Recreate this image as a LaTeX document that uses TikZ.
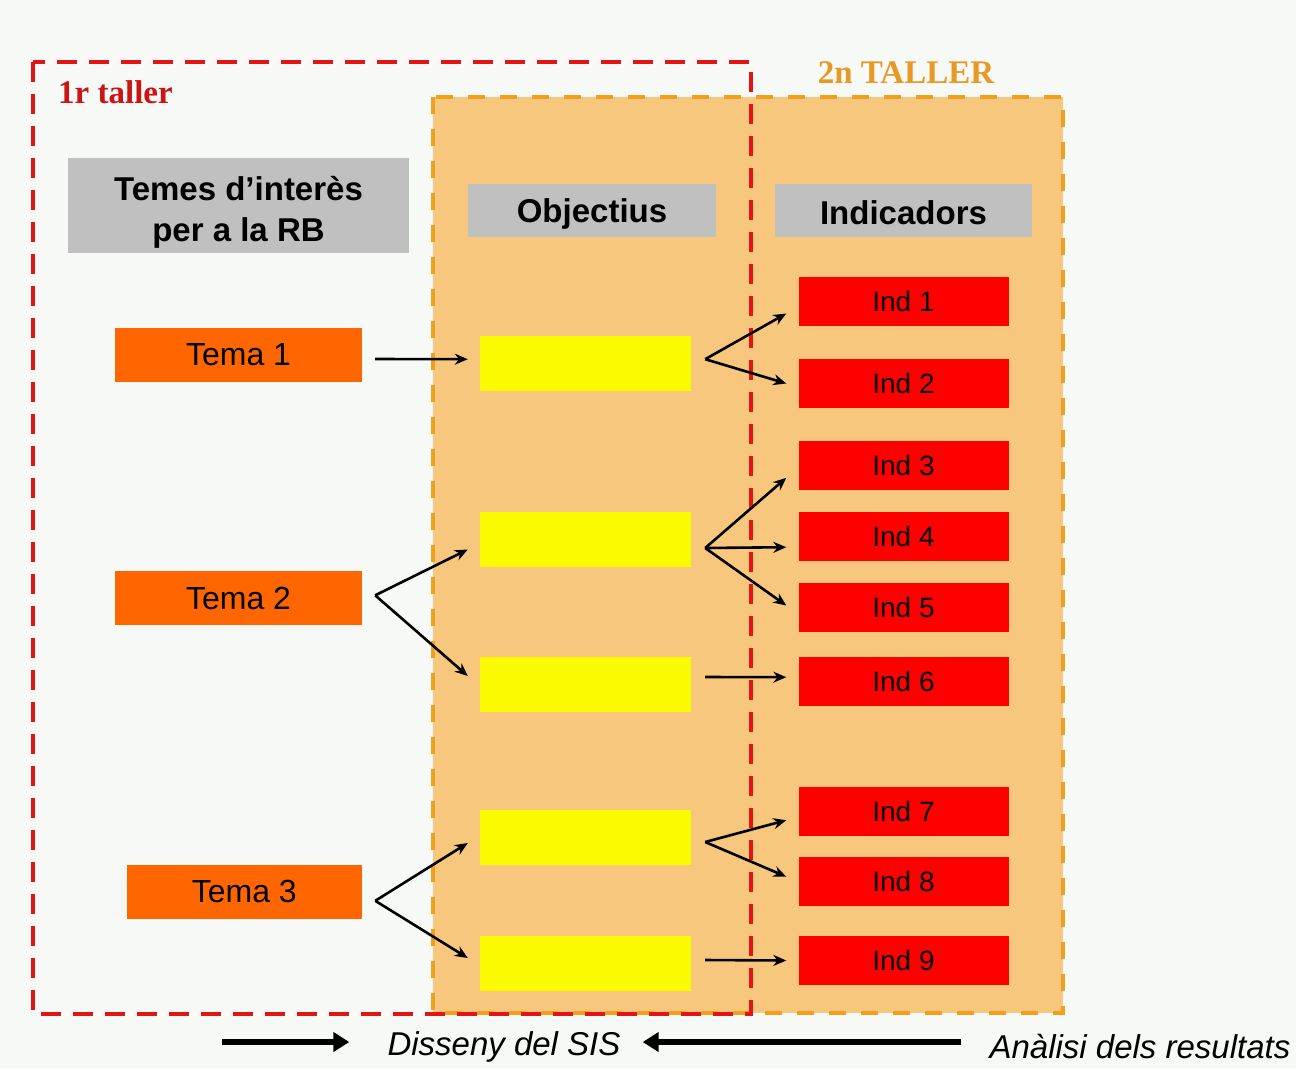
\documentclass[tikz,border=0pt]{standalone}
\usepackage{fontspec}
\setmainfont{Liberation Sans}
\newfontfamily\tallerfont{Liberation Serif}
\usepackage{tikz}
\usetikzlibrary{arrows.meta,calc}

\definecolor{fons}{RGB}{246,249,246}
\definecolor{ofons}{RGB}{247,199,125}
\definecolor{olinia}{RGB}{240,160,30}
\definecolor{rlinia}{RGB}{228,20,20}
\definecolor{capgris}{RGB}{192,192,192}
\definecolor{taronja}{RGB}{255,102,0}
\definecolor{groc}{RGB}{250,250,0}
\definecolor{vermell}{RGB}{255,0,0}
\definecolor{rtext}{RGB}{205,20,20}
\definecolor{otext}{RGB}{232,152,35}

\begin{document}
\begin{tikzpicture}[x=1pt,y=-1pt,
   header/.style={fill=capgris,inner sep=0pt,align=center,font=\bfseries\fontsize{33}{41}\selectfont},
   tema/.style={fill=taronja,minimum height=54pt,inner sep=0pt,font=\fontsize{32}{36}\selectfont},
   objectiu/.style={fill=groc,minimum width=211pt,minimum height=55pt,inner sep=0pt},
   ind/.style={fill=vermell,minimum width=210pt,minimum height=49pt,inner sep=0pt,font=\fontsize{28}{30}\selectfont},
   link/.style={-{Stealth[length=13pt,width=11pt]},line width=2.6pt},
   bigarrow/.style={-{Triangle[length=16pt,width=19pt]},line width=5.5pt}]

   % fons i marcs dels tallers
   \fill[fons] (0,0) rectangle (1296,1069);
   \fill[ofons] (433,97) rectangle (1063,1013);
   \draw[olinia,line width=4.5pt,dash pattern=on 17pt off 15pt] (433,97) rectangle (1063,1013);

   \node[anchor=west,inner sep=0pt,text=rtext,font=\tallerfont\bfseries\fontsize{33}{36}\selectfont] (primer) at (58,92) {1r taller};
   \node[inner sep=0pt,text=otext,font=\tallerfont\bfseries\fontsize{33}{36}\selectfont] (segon) at (906,73) {2n TALLER};

   % capcaleres
   \node[header,minimum width=341pt,minimum height=95pt] (temes) at (238.5,205.5) {\rule{0pt}{38pt}Temes d’interès\\per a la RB};
   \node[header,minimum width=248pt,minimum height=53pt] (objectius) at (592,210.5) {\rule{0pt}{30pt}Objectius};
   \node[header,minimum width=257pt,minimum height=53pt] (indicadors) at (903.5,210.5) {\rule{0pt}{28pt}Indicadors};

   % temes
   \node[tema,minimum width=247pt] (t1) at (238.5,355) {Tema 1};
   \node[tema,minimum width=247pt] (t2) at (238.5,598.3) {Tema 2};
   \node[tema,minimum width=235.5pt] (t3) at (244.3,891.8) {Tema 3};

   % objectius
   \node[objectiu] (y1) at (585.5,363.2) {};
   \node[objectiu] (y2) at (585.5,539) {};
   \node[objectiu] (y3) at (585.5,684) {};
   \node[objectiu] (y4) at (585.5,837) {};
   \node[objectiu] (y5) at (585.5,963) {};

   % indicadors
   \node[ind] (i1) at (903.5,301.5) {Ind 1};
   \node[ind] (i2) at (903.5,383.5) {Ind 2};
   \node[ind] (i3) at (903.5,465.8) {Ind 3};
   \node[ind] (i4) at (903.5,536.2) {Ind 4};
   \node[ind] (i5) at (903.5,607.5) {Ind 5};
   \node[ind] (i6) at (903.5,681.2) {Ind 6};
   \node[ind] (i7) at (903.5,811.2) {Ind 7};
   \node[ind] (i8) at (903.5,881.7) {Ind 8};
   \node[ind] (i9) at (903.5,960.5) {Ind 9};

   \draw[rlinia,line width=4.5pt,dash pattern=on 20pt off 12pt] (33,62) rectangle (751,1014);

   % punts de sortida
   \coordinate (s1) at ($(t1.east)+(13,4)$);
   \coordinate (s2) at ($(t2.east)+(13,-3)$);
   \coordinate (s3) at ($(t3.east)+(13,9)$);
   \coordinate (f1) at ($(y1.east)+(14,-4)$);
   \coordinate (f2) at ($(y2.east)+(14,9)$);
   \coordinate (f3) at ($(y3.east)+(14,-7)$);
   \coordinate (f4) at ($(y4.east)+(14,5)$);
   \coordinate (f5) at ($(y5.east)+(14,-3)$);

   \draw[link] (s1) -- ($(y1.west)+(-12,-4)$);
   \draw[link] (s2) -- ($(y2.west)+(-12,10.5)$);
   \draw[link] (s2) -- ($(y3.west)+(-12,-8)$);
   \draw[link] (s3) -- ($(y4.west)+(-12,6)$);
   \draw[link] (s3) -- ($(y5.west)+(-12,-5)$);

   \draw[link] (f1) -- ($(i1.west)+(-12,12)$);
   \draw[link] (f1) -- ($(i2.west)+(-12,0)$);
   \draw[link] (f2) -- ($(i3.west)+(-12,12)$);
   \draw[link] (f2) -- ($(i4.west)+(-12,11)$);
   \draw[link] (f2) -- ($(i5.west)+(-12,-2)$);
   \draw[link] (f3) -- ($(i6.west)+(-12,-4)$);
   \draw[link] (f4) -- ($(i7.west)+(-12,9)$);
   \draw[link] (f4) -- ($(i8.west)+(-12,-5)$);
   \draw[link] (f5) -- ($(i9.west)+(-12,0)$);

   % peu
   \node[inner sep=0pt,font=\itshape\fontsize{33}{36}\selectfont] (disseny) at (504,1047) {Disseny del SIS};
   \node[inner sep=0pt,font=\itshape\fontsize{33}{36}\selectfont] (analisi) at (1140,1047) {Anàlisi dels resultats};
   \coordinate (inici) at (222,1042);
   \draw[bigarrow] (inici) -- ($(disseny.west)+(-38,-5)$);
   \draw[bigarrow] ($(analisi.west)+(-28,-5)$) -- ($(disseny.east)+(22,-5)$);

\end{tikzpicture}
\end{document}
